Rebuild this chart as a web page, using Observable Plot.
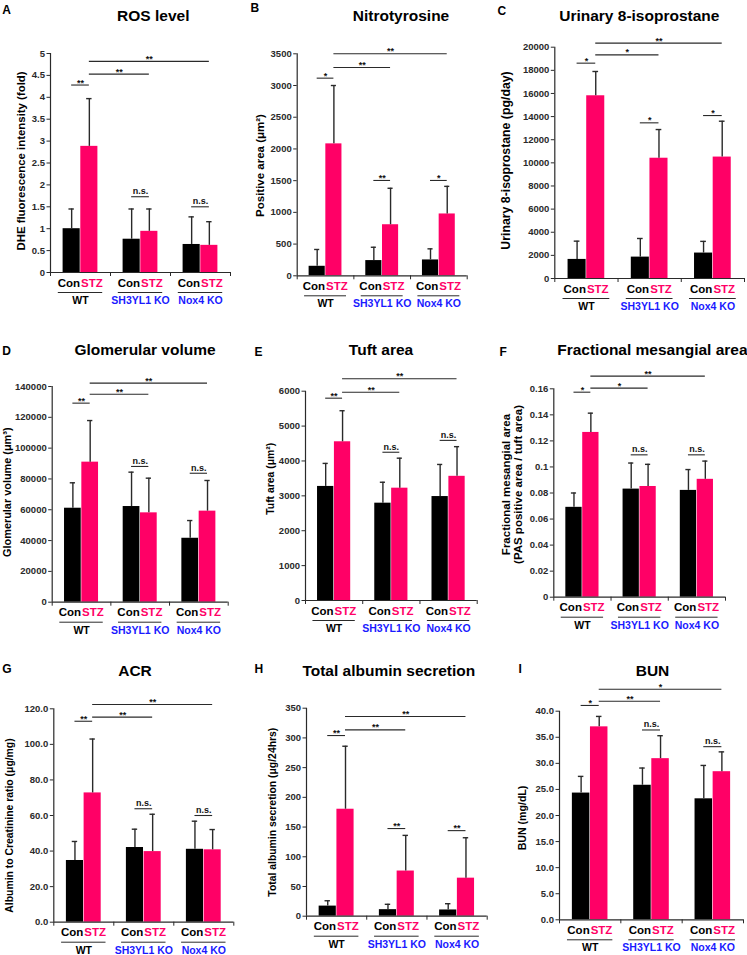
<!DOCTYPE html>
<html><head><meta charset="utf-8">
<script src="https://cdn.jsdelivr.net/npm/d3@7"></script>
<script src="https://cdn.jsdelivr.net/npm/@observablehq/plot@0.6"></script>
<style>
html,body{margin:0;padding:0;background:#fff;}
#root{position:relative;width:747px;height:955px;overflow:hidden;background:#fff;}
</style></head><body><div id="root"></div>
<script>
// ---------- shared categories / text ----------
const groups = ["WT", "SH3YL1 KO", "Nox4 KO"];
const conditions = ["Con", "STZ"];
const letters = ["A","B","C","D","E","F","G","H","I"];
const titles = ["ROS level","Nitrotyrosine","Urinary 8-isoprostane","Glomerular volume","Tuft area","Fractional mesangial area","ACR","Total albumin secretion","BUN"];
const yLabels = [
  "DHE fluorescence intensity (fold)",
  "Positive area (μm²)",
  "Urinary 8-isoprostane (pg/day)",
  "Glomerular volume (μm³)",
  "Tuft area (μm²)",
  "Fractional mesangial area\n(PAS positive area / tuft area)",
  "Albumin to Creatinine ratio (μg/mg)",
  "Total albumin secretion (μg/24hrs)",
  "BUN (mg/dL)"
];

// ---------- A: ROS ----------
const rosCon = [1.00, 0.76, 0.64];
const rosConSD = [0.45, 0.69, 0.63];
const rosStz = [2.88, 0.94, 0.62];
const rosStzSD = [1.09, 0.51, 0.54];
const rosTicks = [0,0.5,1,1.5,2,2.5,3,3.5,4,4.5,5];
const rosTickLabels = ["0","0.5","1","1.5","2","2.5","3","3.5","4","4.5","5"];
const rosSig = [[0,0,0,1,4.28,"**"],[0,1,1,1,4.53,"**"],[0,1,2,1,4.82,"**"],[1,0,1,1,1.73,"n.s."],[2,0,2,1,1.50,"n.s."]];

// ---------- B: Nitrotyrosine ----------
const nitroCon = [150, 240, 250];
const nitroConSD = [265, 210, 175];
const nitroStz = [2080, 805, 975];
const nitroStzSD = [920, 575, 435];
const nitroTicks = [0,500,1000,1500,2000,2500,3000,3500];
const nitroTickLabels = ["0","500","1000","1500","2000","2500","3000","3500"];
const nitroSig = [[0,0,0,1,3116,"*"],[0,1,1,1,3284,"**"],[0,1,2,1,3500,"**"],[1,0,1,1,1503,"**"],[2,0,2,1,1503,"*"]];

// ---------- C: Urinary 8-isoprostane ----------
const isoCon = [1650, 1850, 2200];
const isoConSD = [1580, 1610, 1010];
const isoStz = [15800, 10400, 10500];
const isoStzSD = [2100, 2480, 3100];
const isoTicks = [0,2000,4000,6000,8000,10000,12000,14000,16000,18000,20000];
const isoTickLabels = ["0","2000","4000","6000","8000","10000","12000","14000","16000","18000","20000"];
const isoSig = [[0,0,0,1,18620,"*"],[0,1,1,1,19340,"*"],[0,1,2,1,20350,"**"],[1,0,1,1,13460,"*"],[2,0,2,1,14090,"*"]];

// ---------- D: Glomerular volume ----------
const glomCon = [61000, 62100, 41500];
const glomConSD = [16500, 22300, 11500];
const glomStz = [90900, 58000, 59100];
const glomStzSD = [27000, 22500, 19900];
const glomTicks = [0,20000,40000,60000,80000,100000,120000,140000];
const glomTickLabels = ["0","20000","40000","60000","80000","100000","120000","140000"];
const glomSig = [[0,0,0,1,129200,"**"],[0,1,1,1,135000,"**"],[0,1,2,1,142200,"**"],[1,0,1,1,88100,"n.s."],[2,0,2,1,83700,"n.s."]];

// ---------- E: Tuft area ----------
const tuftCon = [3270, 2790, 2980];
const tuftConSD = [660, 600, 920];
const tuftStz = [4550, 3220, 3560];
const tuftStzSD = [890, 860, 850];
const tuftTicks = [0,1000,2000,3000,4000,5000,6000];
const tuftTickLabels = ["0","1000","2000","3000","4000","5000","6000"];
const tuftSig = [[0,0,0,1,5800,"**"],[0,1,1,1,5970,"**"],[0,1,2,1,6355,"**"],[1,0,1,1,4250,"n.s."],[2,0,2,1,4590,"n.s."]];

// ---------- F: Fractional mesangial area ----------
const mesCon = [0.069, 0.083, 0.082];
const mesConSD = [0.011, 0.020, 0.016];
const mesStz = [0.1265, 0.085, 0.0905];
const mesStzSD = [0.0148, 0.017, 0.014];
const mesTicks = [0,0.02,0.04,0.06,0.08,0.1,0.12,0.14,0.16];
const mesTickLabels = ["0","0.02","0.04","0.06","0.08","0.1","0.12","0.14","0.16"];
const mesSig = [[0,0,0,1,0.1574,"*"],[0,1,1,1,0.1605,"*"],[0,1,2,1,0.1697,"**"],[1,0,1,1,0.1093,"n.s."],[2,0,2,1,0.1093,"n.s."]];

// ---------- G: ACR ----------
const acrCon = [34.7, 42.0, 41.0];
const acrConSD = [10.7, 10.3, 15.8];
const acrStz = [72.7, 39.7, 40.7];
const acrStzSD = [30.3, 21.0, 11.4];
const acrTicks = [0,20,40,60,80,100,120];
const acrTickLabels = ["0.0","20.0","40.0","60.0","80.0","100.0","120.0"];
const acrSig = [[0,0,0,1,113,"**"],[0,1,1,1,115.3,"**"],[0,1,2,1,122.4,"**"],[1,0,1,1,63.8,"n.s."],[2,0,2,1,60,"n.s."]];

// ---------- H: Total albumin secretion ----------
const albCon = [17, 11, 10.5];
const albConSD = [9, 9, 10.5];
const albStz = [180, 76, 64];
const albStzSD = [106, 60, 68];
const albTicks = [0,50,100,150,200,250,300,350];
const albTickLabels = ["0","50","100","150","200","250","300","350"];
const albSig = [[0,0,0,1,304,"**"],[0,1,1,1,313.5,"**"],[0,1,2,1,336,"**"],[1,0,1,1,147.5,"**"],[2,0,2,1,144,"**"]];

// ---------- I: BUN ----------
const bunCon = [24.3, 25.8, 23.2];
const bunConSD = [3.2, 3.3, 6.4];
const bunStz = [37.0, 30.9, 28.4];
const bunStzSD = [2.0, 4.4, 3.8];
const bunTicks = [0,5,10,15,20,25,30,35,40];
const bunTickLabels = ["0.0","5.0","10.0","15.0","20.0","25.0","30.0","35.0","40.0"];
const bunSig = [[0,0,0,1,41.1,"*"],[0,1,1,1,41.9,"**"],[0,1,2,1,44.2,"*"],[1,0,1,1,36.4,"n.s."],[2,0,2,1,33.2,"n.s."]];

// ---------- assemble ----------
const panelData = [
  [rosCon, rosConSD, rosStz, rosStzSD, rosTicks, rosTickLabels, rosSig],
  [nitroCon, nitroConSD, nitroStz, nitroStzSD, nitroTicks, nitroTickLabels, nitroSig],
  [isoCon, isoConSD, isoStz, isoStzSD, isoTicks, isoTickLabels, isoSig],
  [glomCon, glomConSD, glomStz, glomStzSD, glomTicks, glomTickLabels, glomSig],
  [tuftCon, tuftConSD, tuftStz, tuftStzSD, tuftTicks, tuftTickLabels, tuftSig],
  [mesCon, mesConSD, mesStz, mesStzSD, mesTicks, mesTickLabels, mesSig],
  [acrCon, acrConSD, acrStz, acrStzSD, acrTicks, acrTickLabels, acrSig],
  [albCon, albConSD, albStz, albStzSD, albTicks, albTickLabels, albSig],
  [bunCon, bunConSD, bunStz, bunStzSD, bunTicks, bunTickLabels, bunSig]
];

// layout (pixels): cell [left, top, w, h], frame [x0, x1, yTop, yBottom]
const layout = [
  {cell:[0,0,245,312],   frame:[50,230,53,272],        letter:[1.7,9.2],  title:[152.8,16],   ylab:[21.2,160.5], ys:11.4},
  {cell:[245,0,250,312], frame:[296.7,466.7,53.3,275.3],letter:[250,8],   title:[400.5,16],   ylab:[260,165],    ys:11.5},
  {cell:[495,0,252,312], frame:[554.3,744,46.7,278],   letter:[497,11],   title:[638.8,16],   ylab:[505.7,160],  ys:12.3},
  {cell:[0,312,245,318], frame:[51.7,227.7,386,601.7], letter:[1.7,351],  title:[144.5,349.3],ylab:[7,491.7],    ys:10.9},
  {cell:[245,312,250,318],frame:[305,476.7,390.7,600], letter:[254,352],  title:[380.5,349.3],ylab:[270,478.3],  ys:10.4},
  {cell:[495,312,252,318],frame:[553.3,725,388.3,596.7],letter:[499,351.7],title:[556.7,349.3],titleAnchor:"start",ylab:[511.6,484],ys:11.5},
  {cell:[0,630,245,325], frame:[53.3,233.3,708.3,921.7],letter:[1.7,669], title:[134.5,670.8],ylab:[9.5,825],    ys:10.4},
  {cell:[245,630,250,325],frame:[306,486.7,707.7,915.7],letter:[254,669], title:[388.3,670.8],ylab:[271.7,811.7],ys:10.4},
  {cell:[495,630,252,325],frame:[559,743,710.7,919.3], letter:[518,669],  title:[652,670.8],  ylab:[521.7,817.5],ys:10.6}
];

const FONT = '"Liberation Sans", Arial, Helvetica, sans-serif';
const BLACK = "#000000", PINK = "#ff0066", BLUE = "#1a1aff", LINE = "#2a2a2a";
const BW = 0.295;   // bar width as a fraction of a group slot
const CAP = 0.045;  // half width of the error-bar cap

const root = document.getElementById("root");
const gi = groups.map((name, i) => ({name, i}));

panelData.forEach(([con, conSD, stz, stzSD, ticks, tickLabels, sigRows], k) => {
  const L = layout[k];
  const [cl, ct, cw, ch] = L.cell;
  const [fx0, fx1, fyT, fyB] = L.frame;
  const ymax = ticks[ticks.length - 1];
  const center = (g, c) => g + 0.5 + (c === 0 ? -BW / 2 : BW / 2);
  const bars = [];
  con.forEach((v, i) => bars.push({g: i, c: 0, v, sd: conSD[i]}));
  stz.forEach((v, i) => bars.push({g: i, c: 1, v, sd: stzSD[i]}));
  const sig = sigRows.map(([g1, c1, g2, c2, y, label]) => ({x1: center(g1, c1), x2: center(g2, c2), y, label}));
  const tickMap = new Map(ticks.map((t, i) => [t, tickLabels[i]]));

  const svg = Plot.plot({
    width: cw, height: ch,
    marginLeft: fx0 - cl, marginRight: cl + cw - fx1,
    marginTop: fyT - ct, marginBottom: ct + ch - fyB,
    x: {domain: [0, 3]},
    y: {domain: [0, ymax]},
    color: {type: "identity"},
    style: {fontFamily: FONT, fontWeight: "bold", background: "transparent", overflow: "visible", color: "#111"},
    marks: [
      Plot.rect(bars, {
        x1: d => d.g + 0.5 - (d.c === 0 ? BW : 0),
        x2: d => d.g + 0.5 + (d.c === 1 ? BW : 0),
        y1: 0, y2: "v",
        fill: d => d.c === 0 ? BLACK : PINK,
        insetLeft: 0.3, insetRight: 0.3
      }),
      Plot.ruleX(bars, {x: d => center(d.g, d.c), y1: "v", y2: d => d.v + d.sd, stroke: LINE, strokeWidth: 1.4}),
      Plot.ruleY(bars, {y: d => d.v + d.sd, x1: d => center(d.g, d.c) - CAP, x2: d => center(d.g, d.c) + CAP, stroke: LINE, strokeWidth: 1.4}),
      Plot.ruleX([0], {y1: 0, y2: ymax, stroke: LINE, strokeWidth: 1.2}),
      Plot.ruleY([0], {x1: 0, x2: 3, stroke: LINE, strokeWidth: 1.2}),
      Plot.axisY({ticks, tickFormat: d => tickMap.get(d), tickSize: 3.5, tickPadding: 2, label: null, fontSize: 9.5, color: LINE}),
      Plot.axisX({ticks: [0, 1, 2, 3], tickFormat: () => "", tickSize: 4, label: null, color: LINE}),
      // condition labels under each group
      Plot.text(gi, {x: d => d.i + 0.5, y: 0, text: () => conditions[0], textAnchor: "end", dx: -0.5, dy: 10.5, fill: BLACK, fontSize: 11.5}),
      Plot.text(gi, {x: d => d.i + 0.5, y: 0, text: () => conditions[1], textAnchor: "start", dx: 0.5, dy: 10.5, fill: PINK, fontSize: 11.5}),
      Plot.ruleY(gi, {x1: d => d.i + 0.13, x2: d => d.i + 0.87, y: 0, dy: 20, stroke: LINE, strokeWidth: 1}),
      Plot.text(gi, {x: d => d.i + 0.5, y: 0, text: d => d.name, dy: 28, fill: d => d.i === 0 ? BLACK : BLUE, fontSize: 10.5}),
      // significance brackets
      Plot.ruleY(sig, {x1: "x1", x2: "x2", y: "y", stroke: LINE, strokeWidth: 1.1}),
      Plot.text(sig.filter(d => d.label !== "n.s."), {x: d => (d.x1 + d.x2) / 2, y: "y", text: "label", lineAnchor: "bottom", dy: 0.5, fontSize: 9, fill: "#111"}),
      Plot.text(sig.filter(d => d.label === "n.s."), {x: d => (d.x1 + d.x2) / 2, y: "y", text: "label", lineAnchor: "bottom", dy: -2.5, fontSize: 9, fill: "#111"}),
      // title, panel letter, y label
      Plot.text([titles[k]], {text: d => d, frameAnchor: "top-left", dx: L.title[0] - fx0, dy: L.title[1] - fyT, textAnchor: L.titleAnchor || "middle", lineAnchor: "middle", fontSize: 15.5, fill: "#000"}),
      Plot.text([letters[k]], {text: d => d, frameAnchor: "top-left", dx: L.letter[0] - fx0, dy: L.letter[1] - fyT, textAnchor: "start", lineAnchor: "middle", fontSize: 12, fill: "#000"}),
      Plot.text([yLabels[k]], {text: d => d, frameAnchor: "top-left", dx: L.ylab[0] - fx0, dy: L.ylab[1] - fyT, rotate: -90, textAnchor: "middle", lineAnchor: "middle", fontSize: L.ys, lineHeight: 1.02, fill: "#000"})
    ]
  });
  svg.style.position = "absolute";
  svg.style.left = cl + "px";
  svg.style.top = ct + "px";
  svg.style.maxWidth = "none";
  root.appendChild(svg);
});
</script>
</body></html>
